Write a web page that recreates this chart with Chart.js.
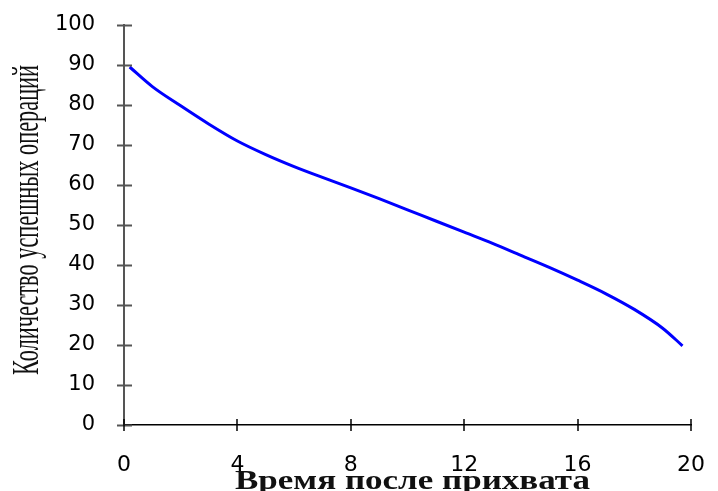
<!DOCTYPE html>
<html>
<head>
<meta charset="utf-8">
<script src="https://cdn.jsdelivr.net/npm/chart.js@4/dist/chart.umd.min.js"></script>
<style>
  html, body { margin: 0; padding: 0; background: #fff; }
  #wrap { width: 718px; height: 491px; }
</style>
</head>
<body>
<div id="wrap"><canvas id="chart" width="718" height="491"></canvas></div>
<script>
// Datos
const timeValues = [0.2, 1, 2, 3, 4, 5, 6, 7, 8, 9, 10, 11, 12, 13, 14, 15, 16, 17, 18, 19, 19.7];
const successCounts = [89.5, 84.6, 79.8, 75.2, 71.0, 67.6, 64.6, 61.9, 59.3, 56.6, 53.8, 51.0, 48.2, 45.4, 42.4, 39.4, 36.2, 32.8, 28.9, 24.2, 19.8];
const xTicks = [0, 4, 8, 12, 16, 20];
const yTicks = [0, 10, 20, 30, 40, 50, 60, 70, 80, 90, 100];
const xTitle = "Время после прихвата";
const yTitle = "Количество успешных операций";

const points = timeValues.map((t, i) => ({ x: t, y: successCounts[i] }));

// Marcas que cruzan el eje (como en el original)
const crossTicks = {
  id: "crossTicks",
  afterDraw(chart) {
    const { ctx, scales } = chart;
    const xs = scales.x, ys = scales.y;
    ctx.save();
    ctx.lineWidth = 2;
    ctx.strokeStyle = "#555";
    ys.ticks.forEach(t => {
      const py = Math.round(ys.getPixelForValue(t.value)) + 0.5;
      ctx.beginPath();
      ctx.moveTo(xs.left - 7, py);
      ctx.lineTo(xs.left + 8, py);
      ctx.stroke();
    });
    ctx.lineWidth = 1.5;
    ctx.strokeStyle = "#000";
    xs.ticks.forEach(t => {
      const px = Math.round(xs.getPixelForValue(t.value));
      ctx.beginPath();
      ctx.moveTo(px, ys.bottom - 6);
      ctx.lineTo(px, ys.bottom + 6);
      ctx.stroke();
    });
    ctx.restore();
  }
};

// Títulos de los ejes, estirados/comprimidos como en la imagen
const axisTitles = {
  id: "axisTitles",
  afterDraw(chart) {
    const ctx = chart.ctx;
    ctx.save();
    ctx.fillStyle = "#111";
    ctx.textBaseline = "alphabetic";
    ctx.textAlign = "left";

    // Título X
    ctx.font = "bold 28px 'Liberation Serif', serif";
    let w = ctx.measureText(xTitle).width;
    ctx.save();
    ctx.translate(235, 489);
    ctx.scale(355 / w, 1);
    ctx.fillText(xTitle, 0, 0);
    ctx.restore();

    // Título Y
    ctx.font = "37px 'Liberation Serif', serif";
    w = ctx.measureText(yTitle).width;
    ctx.save();
    ctx.translate(38, 375);
    ctx.rotate(-Math.PI / 2);
    ctx.scale(310 / w, 1);
    ctx.fillText(yTitle, 0, 0);
    ctx.restore();

    ctx.restore();
  }
};

new Chart(document.getElementById("chart").getContext("2d"), {
  type: "line",
  data: {
    datasets: [{
      data: points,
      borderColor: "#0000ff",
      borderWidth: 3,
      pointRadius: 0,
      cubicInterpolationMode: "monotone",
      fill: false
    }]
  },
  options: {
    responsive: false,
    animation: false,
    layout: { padding: { top: 25, right: 27, left: 0, bottom: 0 } },
    plugins: {
      legend: { display: false },
      tooltip: { enabled: false }
    },
    scales: {
      x: {
        type: "linear",
        min: 0,
        max: 20,
        afterBuildTicks: s => { s.ticks = xTicks.map(v => ({ value: v })); },
        afterFit: s => { s.height = 66; s.paddingLeft = 0; s.paddingRight = 0; },
        grid: { display: false },
        border: { display: true, color: "#000", width: 1.5 },
        ticks: {
          padding: 19,
          color: "#000",
          font: { family: "'DejaVu Sans', sans-serif", size: 22 }
        }
      },
      y: {
        min: 0,
        max: 100,
        afterBuildTicks: s => { s.ticks = yTicks.map(v => ({ value: v })); },
        afterFit: s => { s.width = 124; s.paddingTop = 0; s.paddingBottom = 0; },
        grid: { display: false },
        border: { display: true, color: "#555", width: 2 },
        ticks: {
          padding: 21,
          color: "#000",
          font: { family: "'DejaVu Sans', sans-serif", size: 21 }
        }
      }
    }
  },
  plugins: [crossTicks, axisTitles]
});
</script>
</body>
</html>
